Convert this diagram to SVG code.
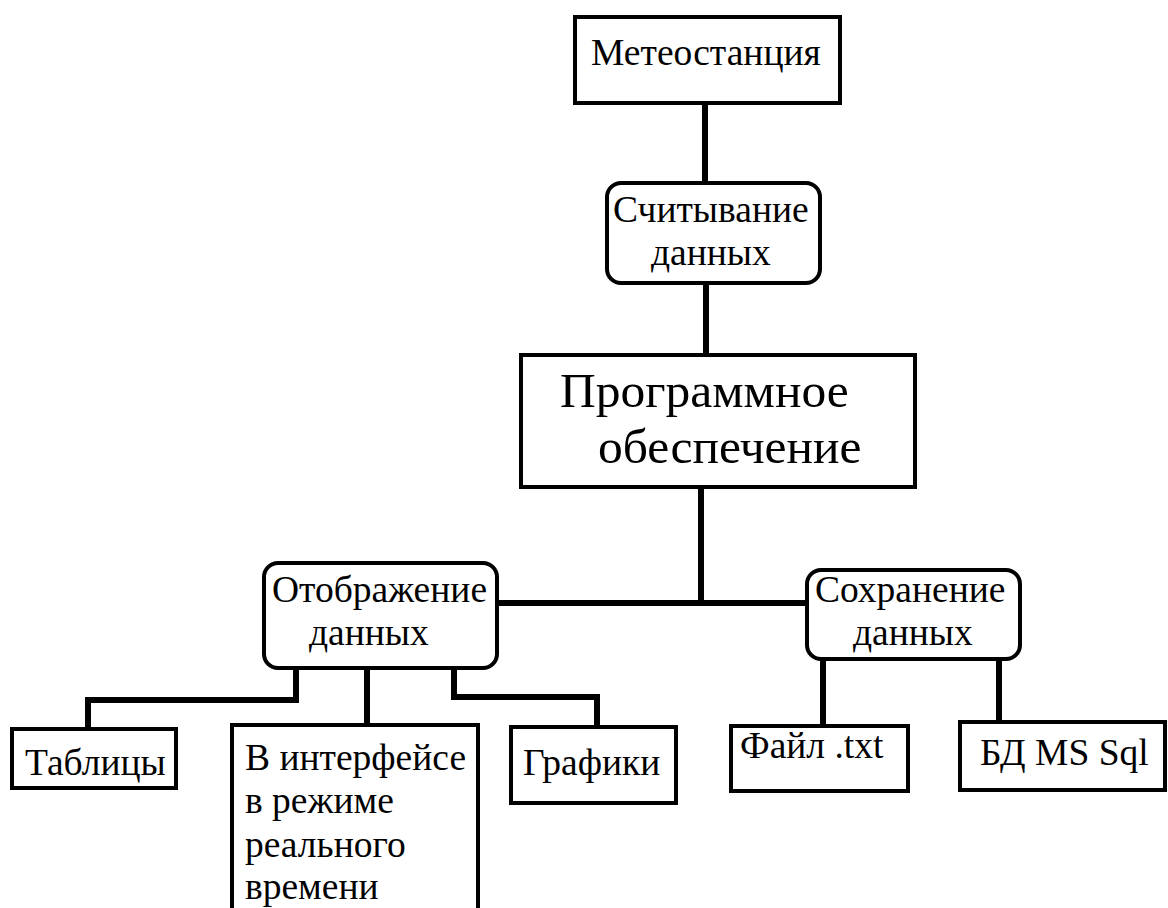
<svg xmlns="http://www.w3.org/2000/svg" width="1168" height="908" viewBox="0 0 1168 908">
<style>
.b{fill:#fff;stroke:#000;stroke-width:4}
.c{fill:none;stroke:#000;stroke-width:6;stroke-linejoin:miter}
text{font-family:"Liberation Serif","Times New Roman",serif;fill:#000}
.t{font-size:37.5px}
.L{font-size:49.5px}
</style>
<rect width="1168" height="908" fill="#fff"/>
<g id="connectors">
<path class="c" d="M705 103V184"/>
<path class="c" d="M706 283V356"/>
<path class="c" d="M701 487V603"/>
<path class="c" d="M497 603H808"/>
<path class="c" d="M296 668V700H88V729"/>
<path class="c" d="M367 668V725"/>
<path class="c" d="M454 668V697H597V727"/>
<path class="c" d="M823 659V726"/>
<path class="c" d="M999 659V722"/>
</g>
<g id="meteo"><rect class="b" x="575" y="17" width="265" height="86"/><text class="t" x="591" y="65">Метеостанция</text></g>
<g id="read"><rect class="b" x="607" y="183" width="213" height="100" rx="14"/><text class="t" x="613" y="222">Считывание</text><text class="t" x="651" y="265">данных</text></g>
<g id="software"><rect class="b" x="521" y="355" width="394" height="132"/><text class="L" x="560" y="407">Программное</text><text class="L" x="598" y="463">обеспечение</text></g>
<g id="display"><rect class="b" x="264" y="563" width="233" height="105" rx="14"/><text class="t" x="272" y="602">Отображение</text><text class="t" x="309" y="645">данных</text></g>
<g id="save"><rect class="b" x="807" y="570" width="213" height="89" rx="14"/><text class="t" x="815" y="602">Сохранение</text><text class="t" x="853" y="645">данных</text></g>
<g id="tables"><rect class="b" x="12" y="729" width="164" height="59"/><text class="t" x="25" y="775">Таблицы</text></g>
<g id="realtime"><rect class="b" x="232" y="725" width="246" height="200"/><text class="t" x="245" y="770">В интерфейсе</text><text class="t" x="245" y="813">в режиме</text><text class="t" x="245" y="857">реального</text><text class="t" x="245" y="899">времени</text></g>
<g id="charts"><rect class="b" x="511" y="727" width="165" height="76"/><text class="t" x="523" y="775">Графики</text></g>
<g id="txt"><rect class="b" x="731" y="726" width="177" height="65"/><text class="t" x="740" y="758">Файл .txt</text></g>
<g id="db"><rect class="b" x="960" y="722" width="205" height="68"/><text class="t" x="980" y="765">БД MS Sql</text></g>
</svg>
